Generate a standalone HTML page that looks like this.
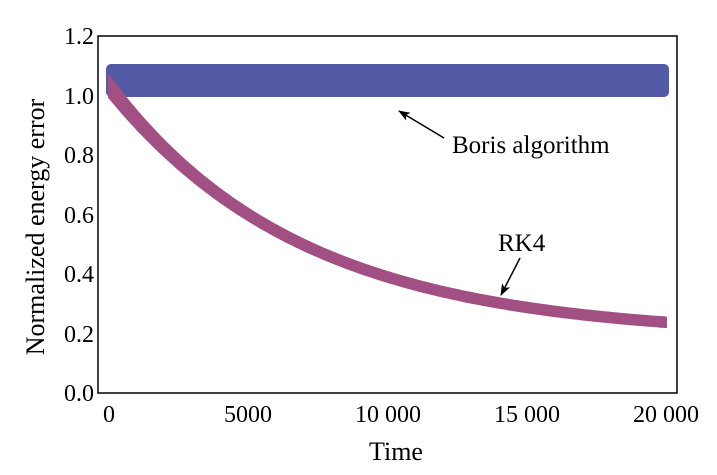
<!DOCTYPE html>
<html><head><style>body{margin:0;background:#fff}svg{display:block}text{font-family:"Liberation Serif",serif;fill:#000}</style></head>
<body>
<svg width="717" height="475" xmlns="http://www.w3.org/2000/svg">
<defs>
<marker id="ah" markerWidth="12" markerHeight="9" refX="11" refY="4.5" orient="auto" markerUnits="userSpaceOnUse"><path d="M0,0 L12,4.5 L0,9 L3,4.5 z" fill="#000"/></marker>
</defs>
<rect x="106" y="64" width="563" height="33" rx="5" fill="#535ba6"/>
<path id="rk" fill="#a24f83" stroke="#a24f83" stroke-width="2" stroke-linejoin="round" d=""/>
<script>
(function(){var up=[],lo=[];for(var i=0;i<=200;i++){var t=i*100;var f=0.19+0.84*Math.exp(-t/6970);var w=0.016+0.02*Math.exp(-t/3000);var x=109+t*557/20000;up.push(x.toFixed(1)+","+(393-(f+w)*297.5).toFixed(1));lo.push(x.toFixed(1)+","+(393-(f-w)*297.5).toFixed(1));}
document.getElementById("rk").setAttribute("d","M"+up.join("L")+"L"+lo.reverse().join("L")+"Z");})();
</script>
<rect x="98" y="36" width="579" height="357" fill="none" stroke="#000" stroke-width="1.5"/>
<g id="ticks" stroke="#000" stroke-width="1"></g>
<script>
(function(){var g=document.getElementById("ticks"),s="";for(var t=0;t<=20000;t+=1000){var x=109+t*557/20000,l=(t%5000==0)?7:4;s+='<line x1="'+x+'" y1="393" x2="'+x+'" y2="'+(393-l)+'"/><line x1="'+x+'" y1="36" x2="'+x+'" y2="'+(36+l)+'"/>';}
for(var k=0;k<=24;k++){var y=393-k*0.05*297.5,l=(k%4==0)?7:4;s+='<line x1="98" y1="'+y+'" x2="'+(98+l)+'" y2="'+y+'"/><line x1="677" y1="'+y+'" x2="'+(677-l)+'" y2="'+y+'"/>';}g.innerHTML=s;})();
</script>
<g font-size="24" text-anchor="end">
<text x="94" y="401">0.0</text><text x="94" y="342">0.2</text><text x="94" y="282">0.4</text><text x="94" y="223">0.6</text><text x="94" y="163">0.8</text><text x="94" y="104">1.0</text><text x="94" y="44">1.2</text>
</g>
<g font-size="24" text-anchor="middle">
<text x="109" y="422">0</text><text x="248" y="422">5000</text><text x="388" y="422">10 000</text><text x="527" y="422">15 000</text><text x="666" y="422">20 000</text>
</g>
<text x="396" y="460" font-size="26" text-anchor="middle">Time</text>
<text transform="translate(44,227) rotate(-90)" font-size="26" text-anchor="middle">Normalized energy error</text>
<text x="452" y="153" font-size="25">Boris algorithm</text>
<text x="498" y="251" font-size="25">RK4</text>
<line x1="444" y1="138" x2="399" y2="111" stroke="#000" stroke-width="1.5" marker-end="url(#ah)"/>
<line x1="520" y1="258" x2="501" y2="295" stroke="#000" stroke-width="1.5" marker-end="url(#ah)"/>
</svg>
</body></html>
